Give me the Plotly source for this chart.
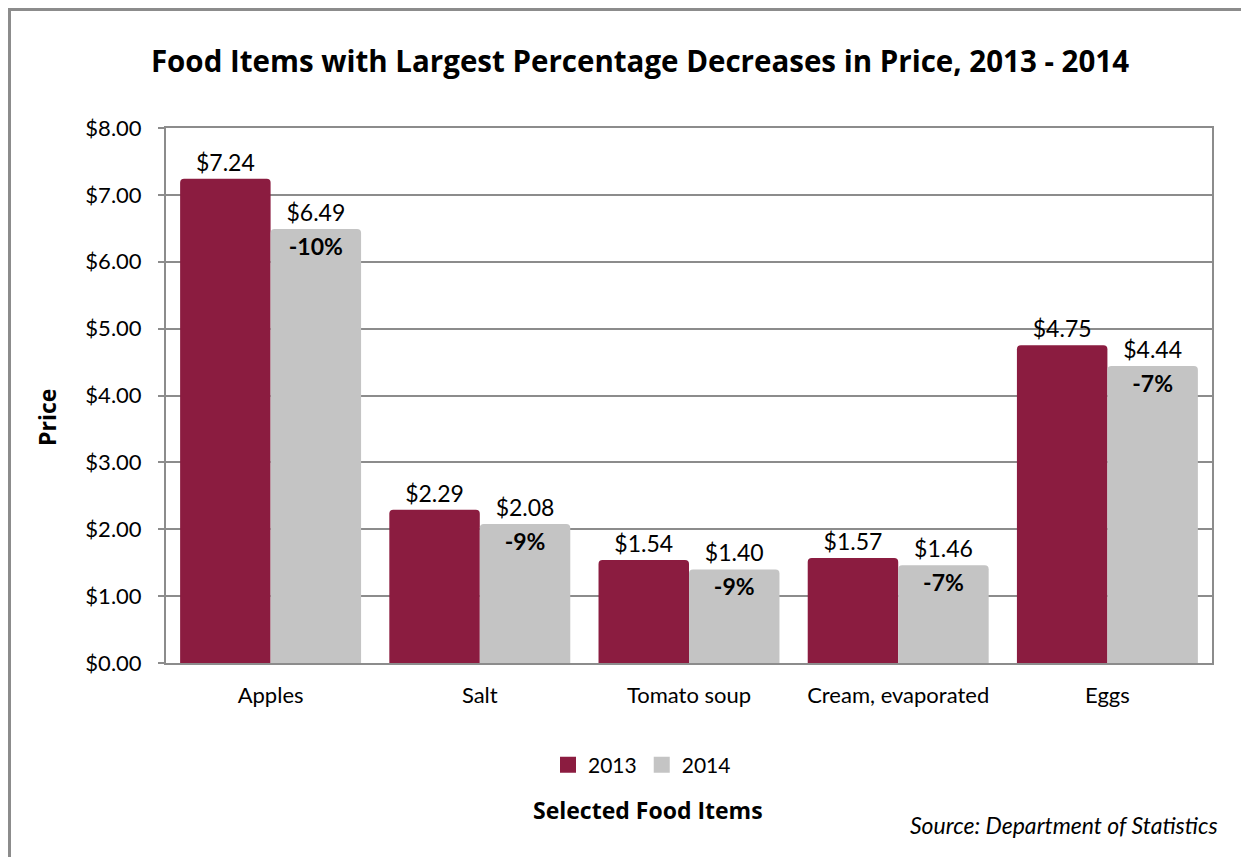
import plotly.graph_objects as go

# data
items = ["Apples", "Salt", "Tomato soup", "Cream, evaporated", "Eggs"]
price_2013 = [7.24, 2.29, 1.54, 1.57, 4.75]
price_2014 = [6.49, 2.08, 1.40, 1.46, 4.44]
pct_change = ["-10%", "-9%", "-9%", "-7%", "-7%"]

FONT = "Lato, 'Open Sans', sans-serif"
BOLD = "'Open Sans', Lato, sans-serif"
MAROON = "#8B1C40"
GREY = "#C4C4C4"
FRAME = "#8C8C8C"

# the page adds an 8px body margin; work in page pixels and shift
OFF = 8
W, H = 1249 - OFF, 857 - OFF
L, R, T, B = 166 - OFF, 1212 - OFF, 128 - OFF, 663 - OFF


def px_x(x):
    return (x - OFF - L) / (R - L)


def px_y(y):
    return (B - (y - OFF)) / (B - T)


fig = go.Figure()

fig.add_trace(go.Bar(
    x=items, y=price_2013, name="2013",
    offsetgroup="a", showlegend=False,
    marker=dict(color=MAROON, cornerradius=4, line=dict(width=0)),
    text=[f"${v:.2f}" for v in price_2013],
    textposition="outside",
    textfont=dict(size=23, color="#000", family=FONT),
    cliponaxis=False,
))

fig.add_trace(go.Bar(
    x=items, y=price_2014, name="2014",
    offsetgroup="b", showlegend=False,
    marker=dict(color=GREY, cornerradius=4, line=dict(width=0)),
    text=[f"${v:.2f}" for v in price_2014],
    textposition="outside",
    textfont=dict(size=23, color="#000", family=FONT),
    cliponaxis=False,
))

# percentage labels inside the 2014 bars
fig.add_trace(go.Bar(
    x=items, y=price_2014, name="pct",
    offsetgroup="b", showlegend=False, hoverinfo="skip",
    marker=dict(color="rgba(0,0,0,0)", line=dict(width=0)),
    text=[f"<b>{p}</b>" for p in pct_change],
    textposition="inside", insidetextanchor="end",
    constraintext="none",
    textfont=dict(size=23, color="#000", family=FONT),
))

# legend entries with bigger square swatches
for name, col in [("2013", MAROON), ("2014", GREY)]:
    fig.add_trace(go.Scatter(
        x=[None], y=[None], mode="markers", name=name,
        marker=dict(symbol="square", size=16, color=col),
    ))

fig.update_layout(
    width=W, height=H,
    margin=dict(l=L, r=W - R, t=T, b=H - B),
    paper_bgcolor="white", plot_bgcolor="white",
    font=dict(family=FONT, size=23, color="#000"),
    barmode="group", bargap=0.135, bargroupgap=0,
    title=dict(
        text="<b>Food Items with Largest Percentage Decreases in Price, 2013 - 2014</b>",
        xref="paper", x=px_x(640), xanchor="center",
        y=1 - (62 - OFF) / H, yanchor="middle",
        font=dict(size=29.5, family=BOLD),
    ),
    legend=dict(
        orientation="h", x=px_x(642), xanchor="center",
        y=px_y(765), yanchor="middle",
        font=dict(size=21), traceorder="normal",
        itemwidth=30, itemsizing="trace", tracegroupgap=0,
    ),
    showlegend=True,
)

fig.update_yaxes(
    range=[0, 8], dtick=1, tickformat="$.2f",
    showgrid=True, gridcolor=FRAME, gridwidth=2,
    showline=True, linecolor=FRAME, linewidth=2, mirror=True,
    ticks="outside", ticklen=6, tickcolor=FRAME, tickwidth=2,
    ticklabelstandoff=12,
    tickfont=dict(size=22), zeroline=False,
)
fig.update_xaxes(
    showline=True, linecolor=FRAME, linewidth=2, mirror=True,
    ticks="", tickfont=dict(size=22), ticklabelstandoff=12,
)

fig.add_annotation(
    text="<b>Price</b>", textangle=-90, xref="paper", yref="paper",
    x=px_x(47), y=px_y(418), showarrow=False,
    font=dict(size=23, family=BOLD), xanchor="center", yanchor="middle",
)
fig.add_annotation(
    text="<b>Selected Food Items</b>", xref="paper", yref="paper",
    x=px_x(648), y=px_y(810), showarrow=False,
    font=dict(size=23, family=BOLD), xanchor="center", yanchor="middle",
)
fig.add_annotation(
    text="<i>Source: Department of Statistics</i>", xref="paper", yref="paper",
    x=px_x(1220), y=px_y(825), showarrow=False,
    font=dict(size=23), xanchor="right", yanchor="middle",
)

# outer chart frame
fig.add_shape(
    type="rect", xref="paper", yref="paper",
    x0=px_x(9.5), x1=px_x(1270), y0=px_y(880), y1=px_y(9.5),
    line=dict(color=FRAME, width=3), fillcolor="rgba(0,0,0,0)",
    layer="below",
)

fig.write_html("out.html")
